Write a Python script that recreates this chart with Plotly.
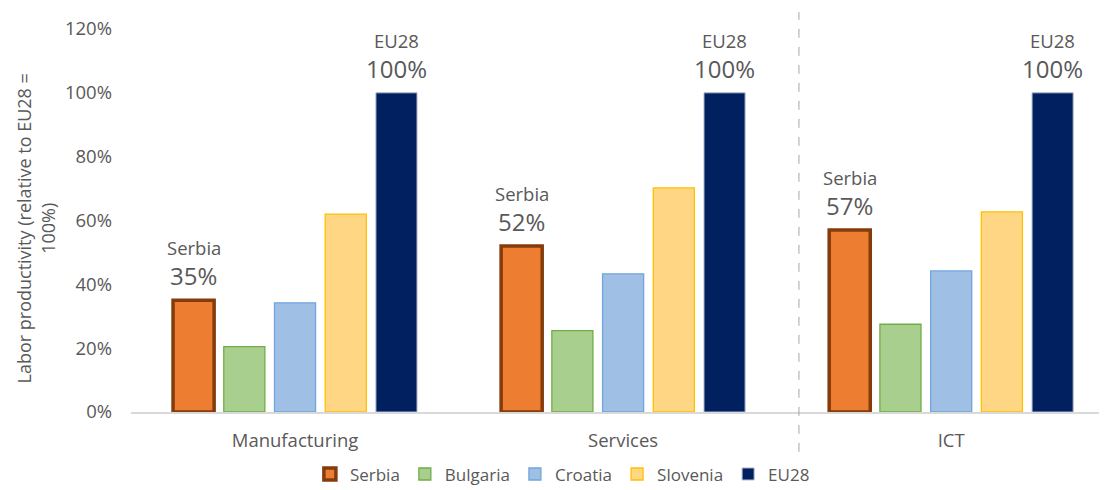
import plotly.graph_objects as go

categories = ["Manufacturing", "Services", "ICT"]
countries = ["Serbia", "Bulgaria", "Croatia", "Slovenia", "EU28"]
values = {
    "Serbia":   [35, 52, 57],
    "Bulgaria": [20.5, 25.5, 27.5],
    "Croatia":  [34.2, 43.3, 44.2],
    "Slovenia": [62, 70.2, 62.7],
    "EU28":     [100, 100, 100],
}
y_ticks = [0, 20, 40, 60, 80, 100, 120]
y_tick_labels = [f"{v}%" for v in y_ticks]

fills = {"Serbia": "#ED7D31", "Bulgaria": "#A9CF8E", "Croatia": "#A0BFE4",
         "Slovenia": "#FFD684", "EU28": "#002060"}
borders = {"Serbia": "#843C0C", "Bulgaria": "#70AD47", "Croatia": "#6FA6DD",
           "Slovenia": "#FFC000", "EU28": "#AEB7CC"}
bwidth = {"Serbia": 3.5, "Bulgaria": 1.3, "Croatia": 1.3, "Slovenia": 1.3, "EU28": 1}

FONT = "Open Sans"
TXT = "#595959"
BARGAP = 0.227
n = len(countries)
slot = (1 - BARGAP) / n

fig = go.Figure()
for c in countries:
    fig.add_trace(go.Bar(
        name=c, x=categories, y=values[c],
        marker=dict(color=fills[c], line=dict(color=borders[c], width=bwidth[c])),
    ))

# labels for Serbia and EU28
for c, idx in (("Serbia", 0), ("EU28", 4)):
    off = -(1 - BARGAP) / 2 + slot * (idx + 0.5)
    for i, v in enumerate(values[c]):
        fig.add_annotation(x=i + off, y=v, xref="x", yref="y", text=f"{v:.0f}%",
                           showarrow=False, yanchor="bottom", yshift=6,
                           font=dict(family=FONT, size=24, color=TXT))
        fig.add_annotation(x=i + off, y=v, xref="x", yref="y", text=c,
                           showarrow=False, yanchor="bottom", yshift=38,
                           font=dict(family=FONT, size=18.5, color=TXT))

# vertical dashed divider
fig.add_shape(type="line", xref="x", yref="paper", x0=1.536, x1=1.536, y0=-0.104, y1=1.044,
              line=dict(color="#A6A6A6", width=1, dash="dash"))

fig.add_annotation(xref="paper", yref="paper", x=-0.098, y=0.48,
                   text="Labor productivity (relative to EU28 =<br>100%)",
                   textangle=-90, showarrow=False, xanchor="center", yanchor="middle",
                   font=dict(family=FONT, size=18, color=TXT))

fig.update_layout(
    width=1099, height=482,
    margin=dict(l=123, r=0, t=21, b=78, autoexpand=False),
    paper_bgcolor="white", plot_bgcolor="white",
    barmode="group", bargap=BARGAP, bargroupgap=0.19,
    font=dict(family=FONT, size=18, color=TXT),
    showlegend=True,
    legend=dict(orientation="h", x=0.442, xanchor="center", y=-0.163, yanchor="middle",
                font=dict(family=FONT, size=17, color=TXT), itemwidth=30,
                traceorder="normal", tracegroupgap=0),
    xaxis=dict(range=[-0.5, 2.475], showgrid=False, showline=True, linecolor="#D9D9D9",
               linewidth=1.5, ticks="", ticklabelstandoff=11,
               tickfont=dict(family=FONT, size=18.5, color=TXT)),
    yaxis=dict(range=[0, 120], tickvals=y_ticks, ticktext=y_tick_labels, showgrid=False,
               showline=False, zeroline=False, ticks="", ticklabelstandoff=18,
               tickfont=dict(family=FONT, size=18.5, color=TXT)),
)

fig.write_html("out.html")
